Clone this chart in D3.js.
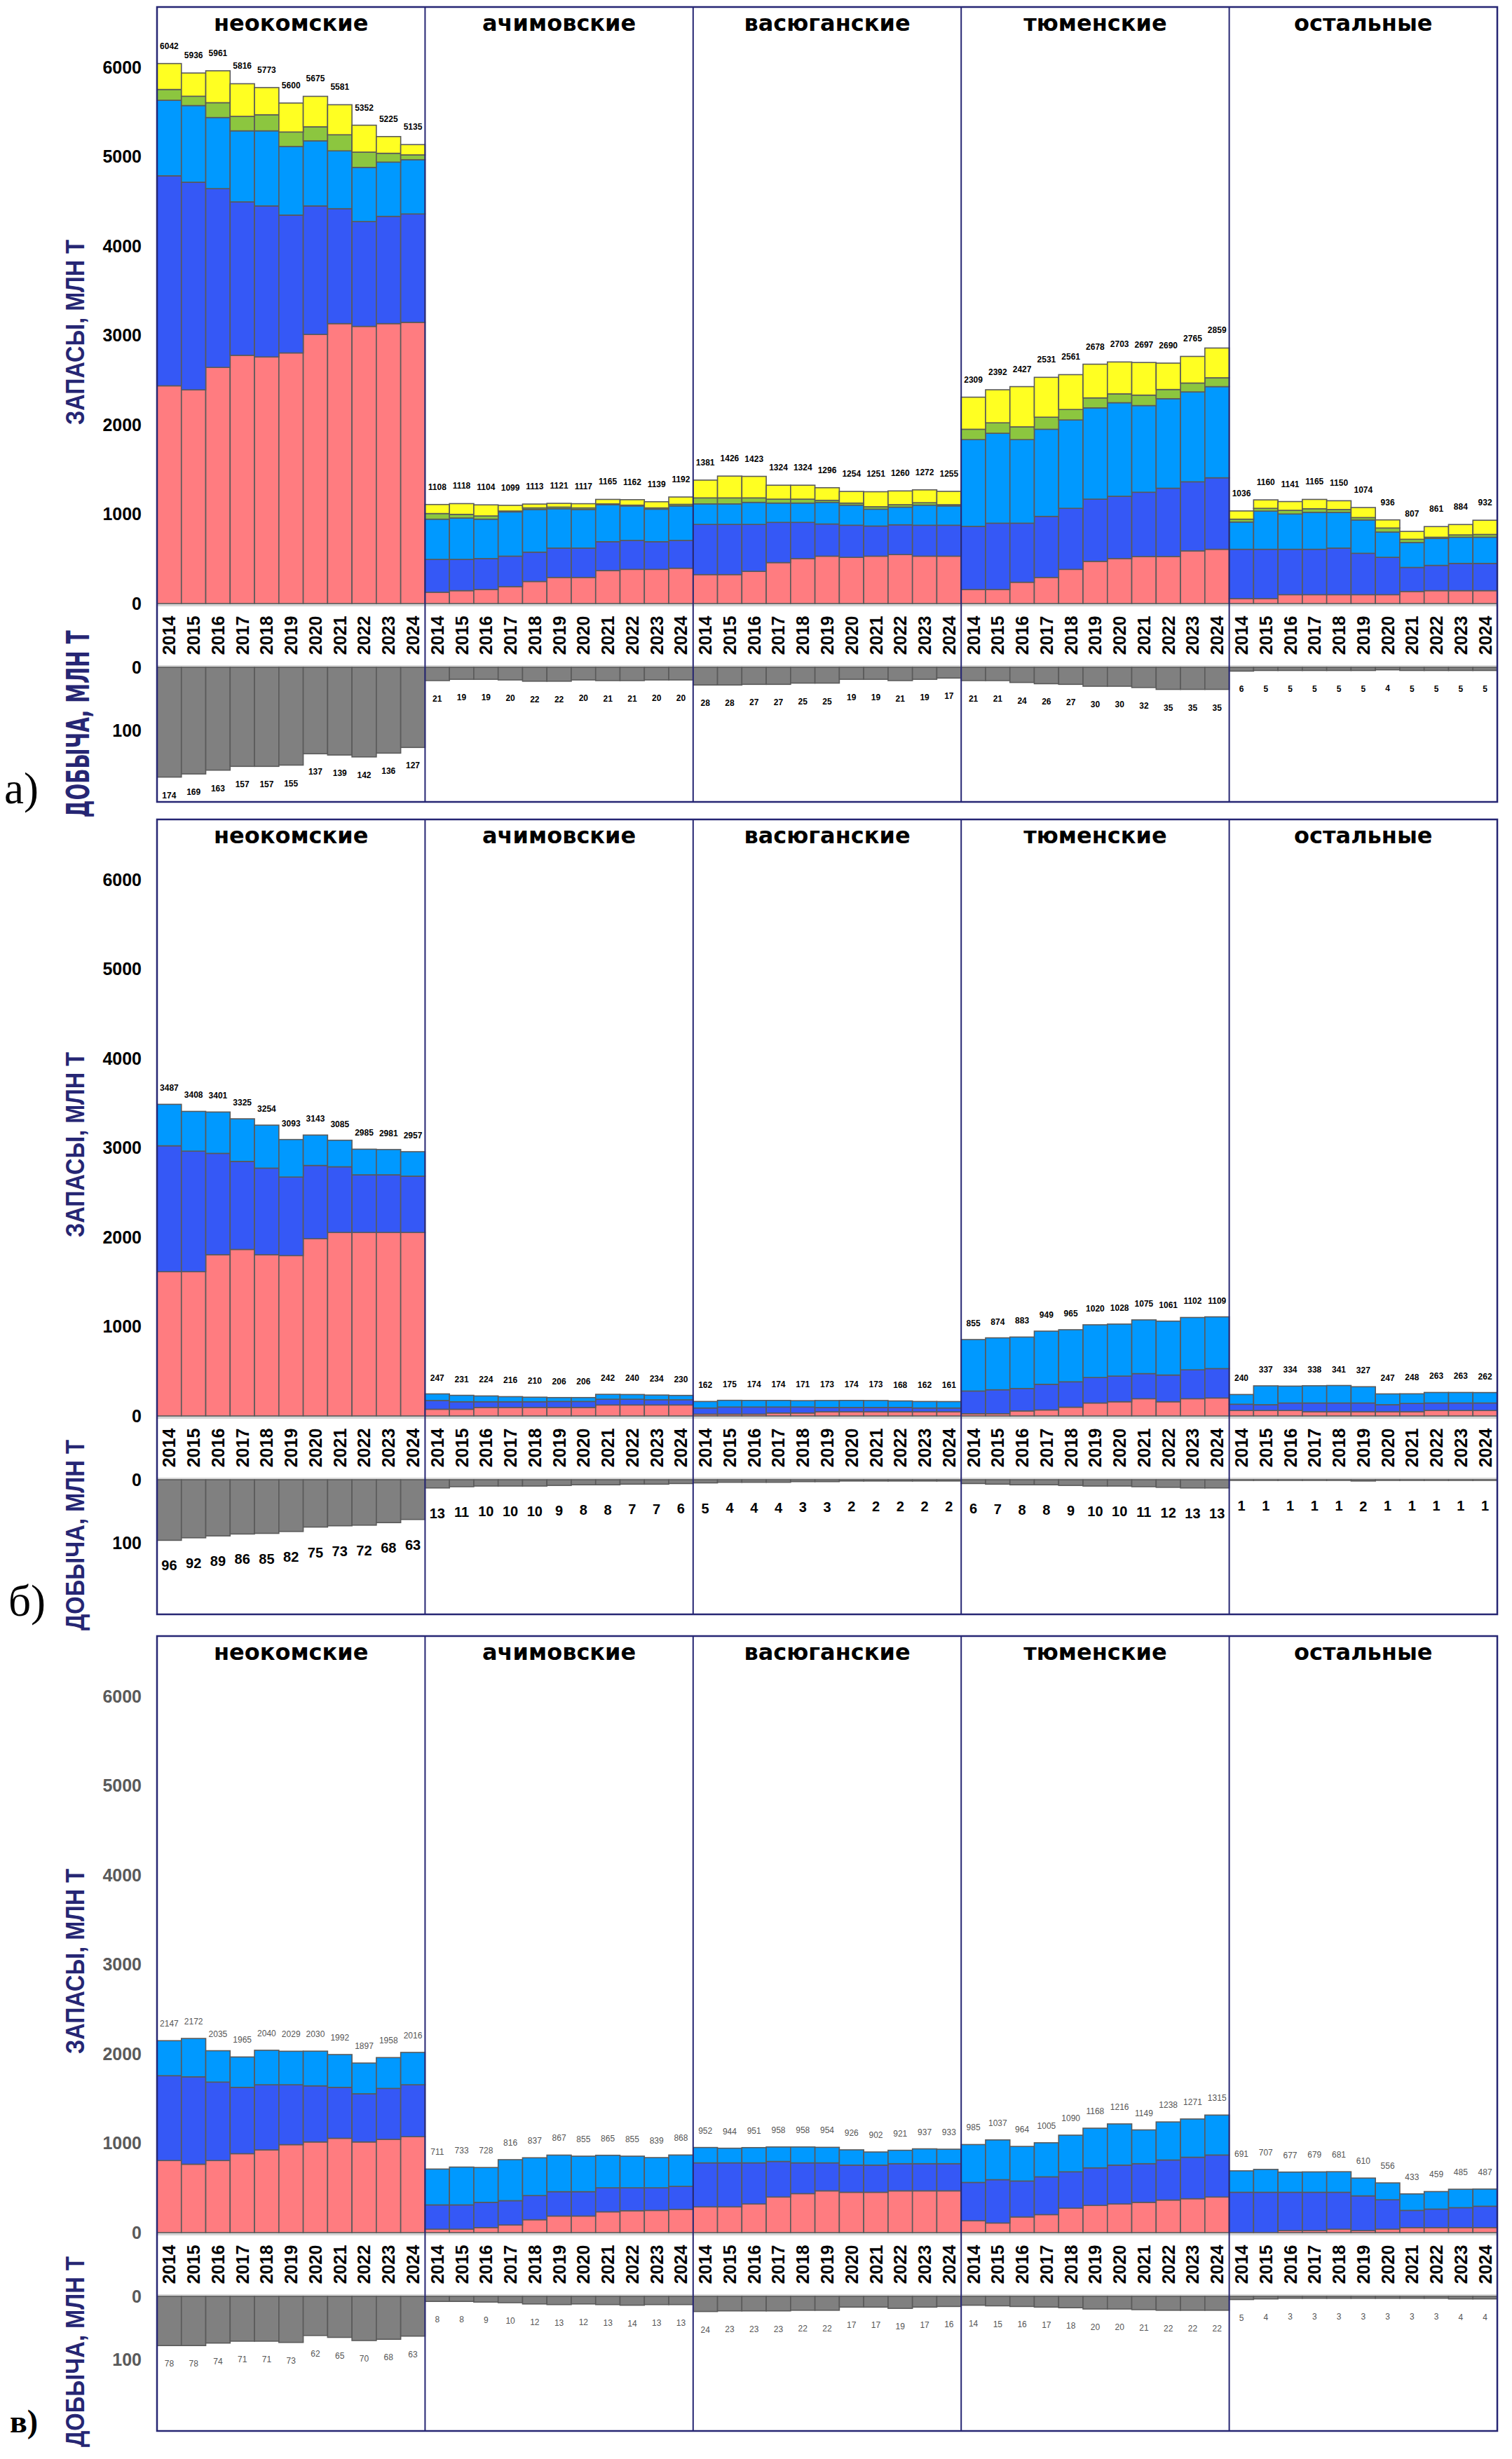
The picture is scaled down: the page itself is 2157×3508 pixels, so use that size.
<!DOCTYPE html>
<html><head><meta charset="utf-8">
<script src="https://cdn.jsdelivr.net/npm/d3@7"></script>
<style>body{margin:0;background:#fff}</style>
</head><body>
<svg id="c" width="2157" height="3508"></svg>
<script>
// ---------- categories / ticks ----------
const groups = ["неокомские","ачимовские","васюганские","тюменские","остальные"];
const years = ["2014","2015","2016","2017","2018","2019","2020","2021","2022","2023","2024"];
const reserveTicks = [0,1000,2000,3000,4000,5000,6000];
const prodTicks = [0,100];

// ---------- figure а) : five reserve segments per bar ----------
const a_red = [
 [2436,2391,2642,2777,2759,2804,3011,3132,3101,3132,3146],
 [126,144,157,189,247,292,292,369,382,382,395],
 [324,324,360,458,503,530,517,530,548,530,530],
 [157,157,238,292,382,472,503,526,526,589,607],
 [55,55,99,99,99,99,99,135,144,144,144]];
const a_dblue = [
 [2350,2323,2000,1717,1690,1542,1438,1286,1173,1200,1213],
 [368,350,346,341,328,328,328,323,324,310,311],
 [561,561,525,450,405,360,359,337,333,346,346],
 [706,742,661,683,683,696,697,719,764,773,800],
 [552,552,508,508,521,463,418,269,283,305,305]];
const a_lblue = [
 [845,858,796,795,840,768,728,647,606,607,607],
 [450,463,441,495,477,441,432,414,386,364,386],
 [230,230,247,216,216,242,225,189,198,225,216],
 [971,1006,935,975,989,1021,1047,970,1002,1006,1020],
 [305,427,395,413,400,373,283,279,301,293,293]];
const a_green = [
 [121,104,166,162,180,162,157,180,171,99,54],
 [63,41,36,10,18,18,18,9,9,14,18],
 [67,67,50,44,44,23,23,27,27,27,14],
 [116,117,143,135,117,112,99,117,103,99,99],
 [32,31,41,41,32,27,45,36,14,26,31]];
const a_yellow = [
 [290,260,357,365,304,324,341,336,301,187,115],
 [101,120,124,64,43,42,47,50,61,69,82],
 [199,244,241,156,156,141,130,168,154,144,149],
 [359,370,450,446,390,377,357,365,295,298,333],
 [92,95,98,104,98,112,91,88,119,116,159]];
const a_total = [
 [6042,5936,5961,5816,5773,5600,5675,5581,5352,5225,5135],
 [1108,1118,1104,1099,1113,1121,1117,1165,1162,1139,1192],
 [1381,1426,1423,1324,1324,1296,1254,1251,1260,1272,1255],
 [2309,2392,2427,2531,2561,2678,2703,2697,2690,2765,2859],
 [1036,1160,1141,1165,1150,1074,936,807,861,884,932]];
const a_prod = [
 [174,169,163,157,157,155,137,139,142,136,127],
 [21,19,19,20,22,22,20,21,21,20,20],
 [28,28,27,27,25,25,19,19,21,19,17],
 [21,21,24,26,27,30,30,32,35,35,35],
 [6,5,5,5,5,5,4,5,5,5,5]];

// ---------- figure б) ----------
const b_red = [
 [1614,1614,1804,1863,1804,1794,1983,2053,2053,2053,2053],
 [75,75,95,95,95,95,95,123,123,123,123],
 [20,20,20,33,33,47,47,47,47,47,47],
 [25,25,56,67,98,145,159,193,159,193,201],
 [61,61,61,47,47,47,47,47,61,61,61]];
const b_dblue = [
 [1409,1349,1134,985,969,879,820,735,645,645,630],
 [98,84,64,64,64,67,67,64,64,58,58],
 [69,80,80,67,67,48,48,48,48,42,42],
 [254,268,251,287,284,285,287,281,299,323,329],
 [70,65,84,98,98,98,79,93,84,84,84]];
const b_lblue = [
 [464,445,463,477,481,420,340,297,287,283,274],
 [74,72,65,57,51,44,44,55,53,53,49],
 [73,75,74,74,71,78,79,78,73,73,72],
 [576,581,576,595,583,590,582,601,603,586,579],
 [109,211,189,193,196,182,121,108,118,118,117]];
const b_total = [
 [3487,3408,3401,3325,3254,3093,3143,3085,2985,2981,2957],
 [247,231,224,216,210,206,206,242,240,234,230],
 [162,175,174,174,171,173,174,173,168,162,161],
 [855,874,883,949,965,1020,1028,1075,1061,1102,1109],
 [240,337,334,338,341,327,247,248,263,263,262]];
const b_prod = [
 [96,92,89,86,85,82,75,73,72,68,63],
 [13,11,10,10,10,9,8,8,7,7,6],
 [5,4,4,4,3,3,2,2,2,2,2],
 [6,7,8,8,9,10,10,11,12,13,13],
 [1,1,1,1,1,2,1,1,1,1,1]];

// ---------- figure в) ----------
const v_red = [
 [806,765,806,883,925,984,1014,1055,1014,1043,1073],
 [38,38,56,85,144,185,185,232,244,248,260],
 [288,288,320,398,436,467,451,451,467,467,467],
 [132,107,175,201,273,304,320,338,364,379,398],
 [0,0,22,22,38,22,38,56,56,56,56]];
const v_dblue = [
 [949,978,878,742,729,670,628,570,539,570,581],
 [272,272,282,272,270,273,273,269,257,253,257],
 [492,492,460,398,344,313,304,304,304,304,304],
 [429,485,402,423,407,420,435,433,448,464,470],
 [451,451,429,429,413,389,329,192,207,223,239]];
const v_lblue = [
 [392,429,351,340,386,375,388,367,344,345,362],
 [401,423,390,459,423,409,397,364,354,338,351],
 [172,164,171,162,178,174,171,147,150,166,162],
 [424,445,387,381,410,444,461,378,426,428,447],
 [240,256,226,228,230,199,189,185,196,206,192]];
const v_total = [
 [2147,2172,2035,1965,2040,2029,2030,1992,1897,1958,2016],
 [711,733,728,816,837,867,855,865,855,839,868],
 [952,944,951,958,958,954,926,902,921,937,933],
 [985,1037,964,1005,1090,1168,1216,1149,1238,1271,1315],
 [691,707,677,679,681,610,556,433,459,485,487]];
const v_prod = [
 [78,78,74,71,71,73,62,65,70,68,63],
 [8,8,9,10,12,13,12,13,14,13,13],
 [24,23,23,23,22,22,17,17,19,17,16],
 [14,15,16,17,18,20,20,21,22,22,22],
 [5,4,3,3,3,3,3,3,3,4,4]];

// ---------- drawing ----------
const COL = {red:"#FF7C80", dblue:"#3558F6", lblue:"#0099FF", green:"#8CC63F", yellow:"#FFFF22", prod:"#808080"};
const NAVY = "#262673";
const SANS = "'Liberation Sans', Arial, sans-serif";
const WIDE = "'DejaVu Sans', Verdana, sans-serif";
const SERIF = "'Liberation Serif', 'Times New Roman', serif";

const svg = d3.select("#c");
svg.append("rect").attr("width",2157).attr("height",3508).attr("fill","#fff");

const X0 = 224, X1 = 2136;
const gx = d3.scaleBand().domain(groups).range([X0, X1]).padding(0);
const bx = d3.scaleBand().domain(years).range([0, gx.bandwidth()]).padding(0);

function txt(g, s, o) {
  const t = g.append("text").text(s)
    .attr("font-family", o.family || SANS)
    .attr("font-size", o.size)
    .attr("font-weight", o.weight || "normal")
    .attr("fill", o.fill || "#000")
    .attr("text-anchor", o.anchor || "middle");
  let tr = `translate(${o.x},${o.y})`;
  if (o.rot) tr += ` rotate(${o.rot})`;
  t.attr("transform", tr);
  if (o.len) t.attr("textLength", o.len).attr("lengthAdjust", "spacingAndGlyphs");
  return t;
}

function drawFigure(cfg) {
  const T = cfg.top;
  const y = d3.scaleLinear().domain([0, 6000]).range([T + 851, T + 86]);
  const yp = d3.scaleLinear().domain([0, 100]).range([T + 942, T + 1032]);
  const g = svg.append("g");

  // zero lines
  g.append("line").attr("x1", X0).attr("x2", X1).attr("y1", y(0) + 2).attr("y2", y(0) + 2)
    .attr("stroke", "#d6d6d6").attr("stroke-width", 4);
  g.append("line").attr("x1", X0).attr("x2", X1).attr("y1", yp(0) - 1).attr("y2", yp(0) - 1)
    .attr("stroke", "#d6d6d6").attr("stroke-width", 4);

  groups.forEach((grp, p) => {
    const keys = cfg.series.map(s => s.key);
    const rows = years.map((yr, i) => {
      const o = {year: yr};
      cfg.series.forEach(s => o[s.key] = s.values[p][i]);
      return o;
    });
    const stacked = d3.stack().keys(keys)(rows);
    stacked.forEach((layer, li) => {
      g.append("g").selectAll("rect").data(layer).join("rect")
        .attr("x", d => gx(grp) + bx(d.data.year))
        .attr("width", bx.bandwidth())
        .attr("y", d => y(d[1]))
        .attr("height", d => y(d[0]) - y(d[1]))
        .attr("fill", cfg.series[li].color)
        .attr("stroke", "#5a5a5a").attr("stroke-width", 1.6);
    });
    // production bars (downwards)
    g.append("g").selectAll("rect").data(cfg.prod[p]).join("rect")
      .attr("x", (d, i) => gx(grp) + bx(years[i]))
      .attr("width", bx.bandwidth())
      .attr("y", yp(0))
      .attr("height", d => yp(d) - yp(0))
      .attr("fill", COL.prod)
      .attr("stroke", "#5a5a5a").attr("stroke-width", 1.6);

    years.forEach((yr, i) => {
      const cx = gx(grp) + bx(yr) + bx.bandwidth() / 2;
      // total label
      txt(g, cfg.totals[p][i], {x: cx, y: y(cfg.totals[p][i]) - cfg.valOff, size: cfg.valSize,
        weight: cfg.valWeight, fill: cfg.valColor, family: cfg.valFamily});
      // year label
      txt(g, yr, {x: cx + 9, y: T + 896.5, rot: -90, size: 25, weight: "bold"});
      // production label
      txt(g, cfg.prod[p][i], {x: cx, y: yp(cfg.prod[p][i]) + cfg.prodOff, size: cfg.prodSize,
        weight: cfg.prodWeight, fill: cfg.prodColor, family: cfg.valFamily});
    });
    // title
    txt(g, grp, {x: gx(grp) + gx.bandwidth() / 2, y: T + 34, size: 32, weight: "bold", family: WIDE});
  });

  // axis tick labels
  reserveTicks.forEach(t => txt(g, t, {x: 202, y: y(t) + 8.5, size: 25, weight: "bold",
    anchor: "end", fill: cfg.tickColor}));
  prodTicks.forEach(t => txt(g, t, {x: 202, y: yp(t) + 8.5, size: 25, weight: "bold",
    anchor: "end", fill: cfg.tickColor}));

  // axis titles
  txt(g, "ЗАПАСЫ, МЛН Т", {x: 120, y: T + 464, rot: -90, size: 36, weight: "bold", fill: NAVY, len: 264});
  if (cfg.wideProdTitle) {
    txt(g, "ДОБЫЧА, МЛН Т", {x: 127, y: T + 1023, rot: -90, size: 44, weight: "bold", fill: NAVY,
      family: WIDE, len: 267});
  } else {
    txt(g, "ДОБЫЧА, МЛН Т", {x: 120, y: T + 1021, rot: -90, size: 36, weight: "bold", fill: NAVY, len: 272});
  }

  // frame and separators
  g.append("rect").attr("x", X0).attr("y", T).attr("width", X1 - X0).attr("height", 1134)
    .attr("fill", "none").attr("stroke", NAVY).attr("stroke-width", 2.5);
  g.selectAll(".sep").data(groups.slice(1)).join("line")
    .attr("x1", d => gx(d)).attr("x2", d => gx(d))
    .attr("y1", T).attr("y2", T + 1134)
    .attr("stroke", NAVY).attr("stroke-width", 2);

  // figure tag
  txt(g, cfg.tag, {x: cfg.tagX, y: T + 1136, size: cfg.tagSize, weight: cfg.tagWeight,
    family: SERIF, anchor: "start"});
}

drawFigure({
  top: 10, tag: "а)", tagX: 6, tagSize: 63, tagWeight: "normal",
  series: [{key:"red", values:a_red, color:COL.red}, {key:"dblue", values:a_dblue, color:COL.dblue},
           {key:"lblue", values:a_lblue, color:COL.lblue}, {key:"green", values:a_green, color:COL.green},
           {key:"yellow", values:a_yellow, color:COL.yellow}],
  totals: a_total, prod: a_prod,
  valSize: 12, valWeight: "bold", valColor: "#000", valOff: 21,
  prodSize: 12, prodWeight: "bold", prodColor: "#000", prodOff: 30,
  tickColor: "#000", wideProdTitle: true
});
drawFigure({
  top: 1169, tag: "б)", tagX: 12, tagSize: 63, tagWeight: "normal",
  series: [{key:"red", values:b_red, color:COL.red}, {key:"dblue", values:b_dblue, color:COL.dblue},
           {key:"lblue", values:b_lblue, color:COL.lblue}],
  totals: b_total, prod: b_prod,
  valSize: 12, valWeight: "bold", valColor: "#000", valOff: 19,
  prodSize: 20, prodWeight: "bold", prodColor: "#000", prodOff: 43,
  tickColor: "#000", wideProdTitle: false
});
drawFigure({
  top: 2334, tag: "в)", tagX: 14, tagSize: 46, tagWeight: "bold",
  series: [{key:"red", values:v_red, color:COL.red}, {key:"dblue", values:v_dblue, color:COL.dblue},
           {key:"lblue", values:v_lblue, color:COL.lblue}],
  totals: v_total, prod: v_prod,
  valSize: 12, valWeight: "normal", valColor: "#555", valOff: 20,
  prodSize: 12, prodWeight: "normal", prodColor: "#555", prodOff: 30,
  tickColor: "#5a5a5a", wideProdTitle: false
});
</script>
</body></html>
